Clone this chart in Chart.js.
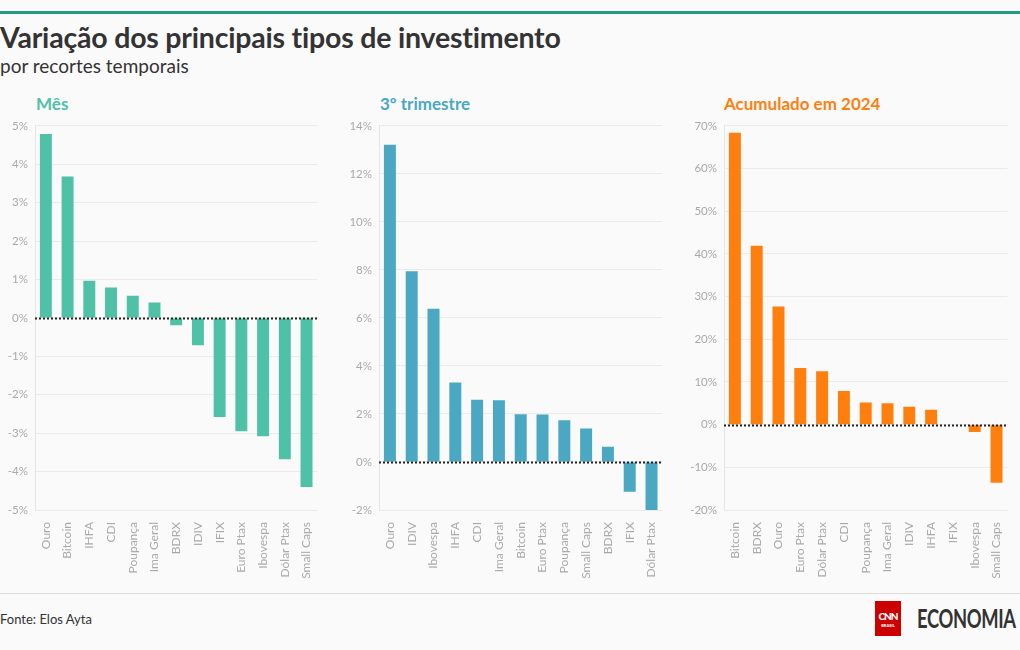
<!DOCTYPE html>
<html>
<head>
<meta charset="utf-8">
<script src="https://cdn.jsdelivr.net/npm/chart.js@4"></script>
<style>
  body { margin: 0; background: #fafafa; font-family: Lato, "Open Sans", sans-serif; }
  #page { position: relative; width: 1020px; height: 650px; overflow: hidden; background: #fafafa; }
  .topbar { position: absolute; left: 0; top: 11px; width: 1020px; height: 3px; background: #1f9e80; }
  h1 { position: absolute; left: 0; top: 20px; margin: 0; font-size: 28.5px; font-weight: 700; color: #333; letter-spacing: -0.2px; }
  .sub { position: absolute; left: 0; top: 54px; font-size: 19px; color: #333; }
  .ptitle { position: absolute; top: 93px; font-size: 17px; font-weight: 700; }
  canvas { position: absolute; }
  .footline { position: absolute; left: 0; top: 593px; width: 1020px; height: 1px; background: #ddd; }
  .fonte { position: absolute; left: 0; top: 611px; font-size: 13px; color: #333; }
  .cnn { position: absolute; left: 875px; top: 601px; width: 26px; height: 35px; background: #cc0000; color: #fff; text-align: center; font-weight: 900; }
  .cnn .a { font-size: 10px; margin-top: 9px; letter-spacing: -1px; }
  .cnn .b { font-size: 4px; margin-top: 1px; }
  .eco { position: absolute; left: 917px; top: 601px; font-size: 27px; font-weight: 700; color: #333; letter-spacing: -0.5px; transform: scaleX(0.68); transform-origin: left; white-space: nowrap; }
</style>
</head>
<body>
<div id="page">
  <div class="topbar"></div>
  <h1>Variação dos principais tipos de investimento</h1>
  <div class="sub">por recortes temporais</div>

  <div class="ptitle" style="left:36px;color:#4fc1a6">Mês</div>
  <div class="ptitle" style="left:380px;color:#4aa8c2">3º trimestre</div>
  <div class="ptitle" style="left:724px;color:#ff7f0e">Acumulado em 2024</div>

  <canvas id="c1" width="325" height="473" style="left:0;top:112px"></canvas>
  <canvas id="c2" width="330" height="473" style="left:340px;top:112px"></canvas>
  <canvas id="c3" width="335" height="473" style="left:680px;top:112px"></canvas>

  <div class="footline"></div>
  <div class="fonte">Fonte: Elos Ayta</div>
  <div class="cnn"><div class="a">CNN</div><div class="b">BRASIL</div></div>
  <div class="eco">ECONOMIA</div>
</div>

<script>
// Mês
const mesLabels = ['Ouro', 'Bitcoin', 'IHFA', 'CDI', 'Poupança', 'Ima Geral', 'BDRX', 'IDIV', 'IFIX', 'Euro Ptax', 'Ibovespa', 'Dólar Ptax', 'Small Caps'];
const mesValores = [4.79, 3.68, 0.97, 0.79, 0.58, 0.40, -0.19, -0.71, -2.58, -2.95, -3.08, -3.68, -4.40];

// 3º trimestre
const triLabels = ['Ouro', 'IDIV', 'Ibovespa', 'IHFA', 'CDI', 'Ima Geral', 'Bitcoin', 'Euro Ptax', 'Poupança', 'Small Caps', 'BDRX', 'IFIX', 'Dólar Ptax'];
const triValores = [13.21, 7.95, 6.38, 3.31, 2.59, 2.57, 1.99, 1.98, 1.74, 1.39, 0.63, -1.24, -2.0];

// Acumulado em 2024
const anoLabels = ['Bitcoin', 'BDRX', 'Ouro', 'Euro Ptax', 'Dólar Ptax', 'CDI', 'Poupança', 'Ima Geral', 'IDIV', 'IHFA', 'IFIX', 'Ibovespa', 'Small Caps'];
const anoValores = [68.4, 41.9, 27.7, 13.3, 12.5, 7.9, 5.2, 5.0, 4.2, 3.5, 0.1, -1.7, -13.6];

// linha pontilhada no zero
const linhaZero = {
    id: 'linhaZero',
    afterDatasetsDraw(chart) {
        const { ctx, chartArea, scales } = chart;
        const y = Math.round(scales.y.getPixelForValue(0)) + 0.5;
        ctx.save();
        ctx.strokeStyle = '#222';
        ctx.lineWidth = 2;
        ctx.setLineDash([2, 2]);
        ctx.beginPath();
        ctx.moveTo(chartArea.left, y);
        ctx.lineTo(chartArea.right, y);
        ctx.stroke();
        ctx.restore();
    }
};

function criarGrafico(id, labels, valores, cor, min, max, passo, larguraEixo) {
    new Chart(document.getElementById(id), {
        type: 'bar',
        data: {
            labels: labels,
            datasets: [{
                data: valores,
                backgroundColor: cor,
                barPercentage: 0.55,
                categoryPercentage: 1
            }]
        },
        options: {
            responsive: false,
            animation: false,
            layout: { padding: { top: 7, right: 2, left: 0, bottom: 0 } },
            plugins: { legend: { display: false }, tooltip: { enabled: false } },
            scales: {
                x: {
                    grid: { display: false },
                    border: { display: false },
                    ticks: {
                        color: '#aaa',
                        font: { family: 'Lato', size: 12 },
                        minRotation: 90,
                        maxRotation: 90,
                        autoSkip: false,
                        padding: 4
                    },
                    afterFit(scale) { scale.height = 75; }
                },
                y: {
                    min: min,
                    max: max,
                    grid: { color: '#ebebeb', drawTicks: false },
                    border: { color: '#e6e6e6' },
                    ticks: {
                        stepSize: passo,
                        color: '#aaa',
                        font: { family: 'Lato', size: 11.5 },
                        padding: 7,
                        callback: v => v + '%'
                    },
                    afterFit(scale) { scale.width = larguraEixo; }
                }
            }
        },
        plugins: [linhaZero]
    });
}

criarGrafico('c1', mesLabels, mesValores, '#4fc1a6', -5, 5, 1, 35);
criarGrafico('c2', triLabels, triValores, '#4aa8c2', -2, 14, 2, 39);
criarGrafico('c3', anoLabels, anoValores, '#ff7f0e', -20, 70, 10, 44);
</script>
</body>
</html>
